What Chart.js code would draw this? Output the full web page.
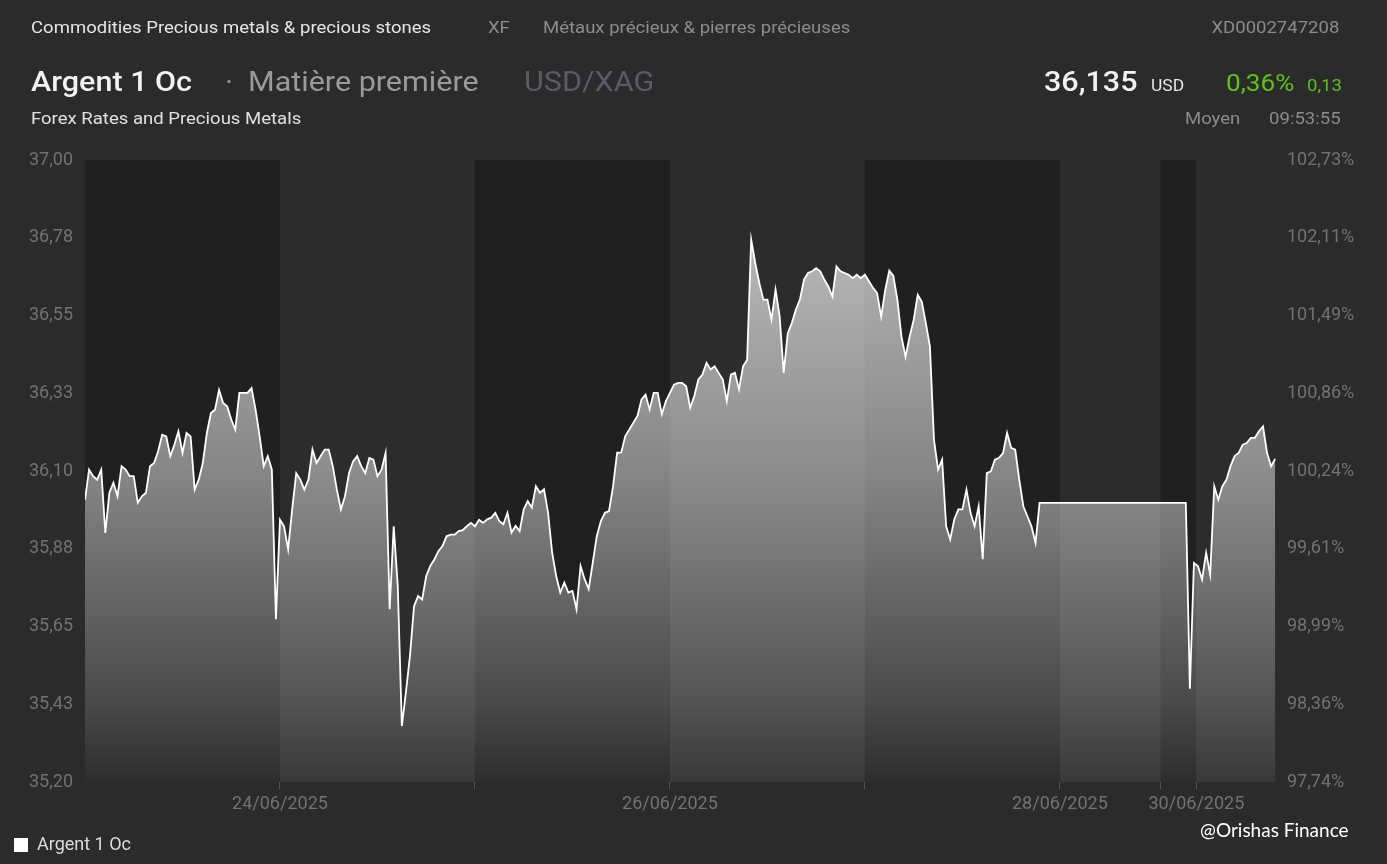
<!DOCTYPE html>
<html><head><meta charset="utf-8">
<script src="https://cdn.jsdelivr.net/npm/chart.js@4.4.1/dist/chart.umd.min.js"></script>
<style>
html,body{margin:0;padding:0;background:#2b2b2b;width:1387px;height:864px;overflow:hidden;font-family:Roboto,sans-serif;}
#wrap{position:relative;width:1387px;height:864px;}
#c{position:absolute;left:0;top:0;}
.t{position:absolute;white-space:nowrap;line-height:1;transform:scaleX(1.09);transform-origin:left center;}
.r{transform-origin:right center;}
</style></head><body>
<div id="wrap">
<canvas id="c" width="1387" height="864" style="width:1387px;height:864px"></canvas>
<div class="t" style="left:31px;top:19px;font-size:17px;color:#e6e6e6">Commodities Precious metals &amp; precious stones</div>
<div class="t" style="left:488px;top:19px;font-size:17px;color:#8c8c8c">XF</div>
<div class="t" style="left:543px;top:19px;font-size:17px;color:#8c8c8c">Métaux précieux &amp; pierres précieuses</div>
<div class="t r" style="right:48px;top:19px;font-size:17px;color:#8c8c8c">XD0002747208</div>
<div class="t" style="left:31px;top:68px;font-size:28px;font-weight:500;color:#f2f2f2">Argent 1 Oc</div>
<div class="t" style="left:225px;top:68px;font-size:28px;color:#9a9a9a">·</div>
<div class="t" style="left:248px;top:68px;font-size:28px;color:#9a9a9a">Matière première</div>
<div class="t" style="left:524px;top:68px;font-size:28px;color:#5d5a68">USD/XAG</div>
<div class="t" style="left:1044px;top:68px;font-size:28px;font-weight:500;color:#f2f2f2">36,135</div>
<div class="t" style="left:1151px;top:78px;font-size:16px;color:#e6e6e6">USD</div>
<div class="t" style="left:1226px;top:71px;font-size:24px;color:#5cc21a">0,36%</div>
<div class="t" style="left:1307px;top:77px;font-size:17px;color:#5cc21a">0,13</div>
<div class="t" style="left:31px;top:110px;font-size:17px;color:#e0e0e0">Forex Rates and Precious Metals</div>
<div class="t" style="left:1185px;top:110px;font-size:17px;color:#8c8c8c">Moyen</div>
<div class="t r" style="right:46px;top:110px;font-size:17px;color:#8c8c8c">09:53:55</div>
<div class="t" style="left:1200px;top:820px;font-size:19px;color:#ffffff;font-family:Lato,'Open Sans',sans-serif;transform:none">@Orishas Finance</div>
</div>
<script>
const seriesName = 'Argent 1 Oc';
const stepHours = 0.5;
const xEnd = 146.6;
const prices = [
36.017,36.104,36.085,36.075,36.104,35.921,36.037,36.066,36.027,36.114,
36.104,36.085,36.085,36.008,36.027,36.037,36.114,36.123,36.157,36.205,
36.200,36.143,36.176,36.215,36.152,36.210,36.200,36.046,36.075,36.123,
36.210,36.268,36.277,36.335,36.297,36.287,36.249,36.220,36.326,36.326,
36.326,36.340,36.277,36.200,36.114,36.143,36.104,35.671,35.959,35.940,
35.873,35.989,36.094,36.075,36.046,36.075,36.162,36.123,36.143,36.162,
36.162,36.114,36.046,35.989,36.027,36.094,36.128,36.143,36.114,36.094,
36.138,36.133,36.085,36.104,36.152,35.700,35.940,35.767,35.362,35.459,
35.565,35.709,35.738,35.728,35.796,35.825,35.844,35.868,35.883,35.911,
35.916,35.916,35.926,35.929,35.940,35.950,35.940,35.959,35.950,35.960,
35.965,35.979,35.955,35.946,35.979,35.922,35.941,35.926,35.989,36.013,
35.994,36.056,36.037,36.047,35.979,35.864,35.796,35.748,35.777,35.748,
35.753,35.700,35.825,35.787,35.758,35.835,35.912,35.955,35.979,35.984,
36.056,36.153,36.153,36.201,36.220,36.240,36.259,36.307,36.321,36.278,
36.326,36.326,36.264,36.302,36.326,36.350,36.355,36.355,36.345,36.283,
36.317,36.365,36.379,36.413,36.394,36.403,36.384,36.365,36.302,36.379,
36.384,36.336,36.403,36.422,36.770,36.702,36.644,36.596,36.596,36.538,
36.625,36.548,36.384,36.499,36.528,36.567,36.596,36.654,36.673,36.678,
36.687,36.678,36.654,36.634,36.605,36.692,36.678,36.673,36.668,36.658,
36.668,36.658,36.668,36.649,36.630,36.615,36.547,36.624,36.680,36.665,
36.595,36.489,36.431,36.489,36.537,36.610,36.590,36.528,36.461,36.191,
36.104,36.133,35.940,35.902,35.960,35.989,35.989,36.046,35.979,35.940,
35.998,35.845,36.094,36.099,36.133,36.138,36.152,36.210,36.167,36.162,
36.075,35.998,35.969,35.940,35.892,36.008,null,null,null,null,
null,null,null,null,null,null,null,null,null,null,
null,null,null,null,null,null,null,null,null,null,
null,null,null,null,null,null,null,null,null,null,
null,36.008,35.470,35.834,35.824,35.786,35.863,35.800,36.056,36.017,
36.056,36.075,36.114,36.143,36.152,36.176,36.181,36.196,36.196,36.215,
36.229,36.152,36.114,36.135
];
const dayStarts = [0, 24, 48, 72, 96, 120, 132.4, 136.8];
const xTickPositions = [24, 48, 72, 96, 120, 132.4, 136.8];
const xTickLabels = ['24/06/2025', '', '26/06/2025', '', '28/06/2025', '', '30/06/2025'];
const yTickValues = [35.2, 35.425, 35.65, 35.875, 36.1, 36.325, 36.55, 36.775, 37];
const yTickLabels = ['35,20', '35,43', '35,65', '35,88', '36,10', '36,33', '36,55', '36,78', '37,00'];
const pctTickLabels = ['97,74%', '98,36%', '98,99%', '99,61%', '100,24%', '100,86%', '101,49%', '102,11%', '102,73%'];

const points = prices.map((v, i) => ({x: i * stepHours, y: v}));

const bandsPlugin = {
  id: 'bands',
  beforeDatasetsDraw(chart) {
    const {ctx, chartArea: a, scales: {x}} = chart;
    ctx.save();
    for (let i = 0; i < dayStarts.length; i++) {
      const s = x.getPixelForValue(dayStarts[i]);
      const e = x.getPixelForValue(i + 1 < dayStarts.length ? dayStarts[i + 1] : xEnd);
      ctx.fillStyle = i % 2 === 0 ? '#202020' : '#2c2c2c';
      ctx.fillRect(s, a.top, e - s, a.bottom - a.top);
    }
    ctx.restore();
  }
};

const tickFont = {family: 'Roboto', size: 18};
const tickColor = '#727272';

new Chart(document.getElementById('c'), {
  type: 'line',
  data: {
    datasets: [{
      label: seriesName,
      data: points,
      borderColor: '#ffffff',
      borderWidth: 1.8,
      pointRadius: 0,
      tension: 0,
      spanGaps: true,
      fill: 'start',
      backgroundColor: (c) => {
        const ch = c.chart, a = ch.chartArea;
        if (!a) return 'rgba(255,255,255,0.4)';
        const g = ch.ctx.createLinearGradient(0, a.top, 0, a.bottom);
        g.addColorStop(0, 'rgba(255,255,255,0.72)');
        g.addColorStop(0.13, 'rgba(255,255,255,0.66)');
        g.addColorStop(0.5, 'rgba(255,255,255,0.46)');
        g.addColorStop(0.87, 'rgba(255,255,255,0.19)');
        g.addColorStop(1, 'rgba(255,255,255,0.06)');
        return g;
      }
    }]
  },
  options: {
    responsive: false,
    animation: false,
    layout: {padding: {top: 160, left: 0, right: 0, bottom: 0}},
    plugins: {
      tooltip: {enabled: false},
      legend: {
        position: 'bottom',
        align: 'start',
        labels: {
          boxWidth: 14, boxHeight: 14, padding: 14,
          color: '#dcdcdc', font: {family: 'Roboto', size: 18},
          generateLabels: () => [{text: seriesName, fillStyle: '#ffffff', strokeStyle: '#ffffff', lineWidth: 0, hidden: false, datasetIndex: 0, fontColor: '#dcdcdc'}]
        }
      }
    },
    scales: {
      x: {
        type: 'linear', min: 0, max: xEnd,
        afterBuildTicks: s => { s.ticks = xTickPositions.map(v => ({value: v})); },
        afterFit: s => { s.height = 40; },
        ticks: {autoSkip: false, maxRotation: 0, color: tickColor, font: tickFont, padding: 5,
          callback: (v, i) => xTickLabels[i]},
        grid: {display: true, drawOnChartArea: false, drawTicks: true, tickLength: 7, color: '#555555', tickColor: '#555555'},
        border: {display: false}
      },
      y: {
        position: 'left', min: 35.2, max: 37,
        afterBuildTicks: s => { s.ticks = yTickValues.map(v => ({value: v})); },
        afterFit: s => { s.width = 85; },
        ticks: {color: tickColor, font: tickFont, padding: 12, callback: (v, i) => yTickLabels[i]},
        grid: {display: false, drawTicks: false},
        border: {display: false}
      },
      pct: {
        display: true, position: 'right', min: 35.2, max: 37,
        afterBuildTicks: s => { s.ticks = yTickValues.map(v => ({value: v})); },
        afterFit: s => { s.width = 111; },
        ticks: {color: tickColor, font: tickFont, padding: 11, callback: (v, i) => pctTickLabels[i]},
        grid: {display: false, drawTicks: false},
        border: {display: false}
      }
    }
  },
  plugins: [bandsPlugin]
});
</script>
</body></html>
